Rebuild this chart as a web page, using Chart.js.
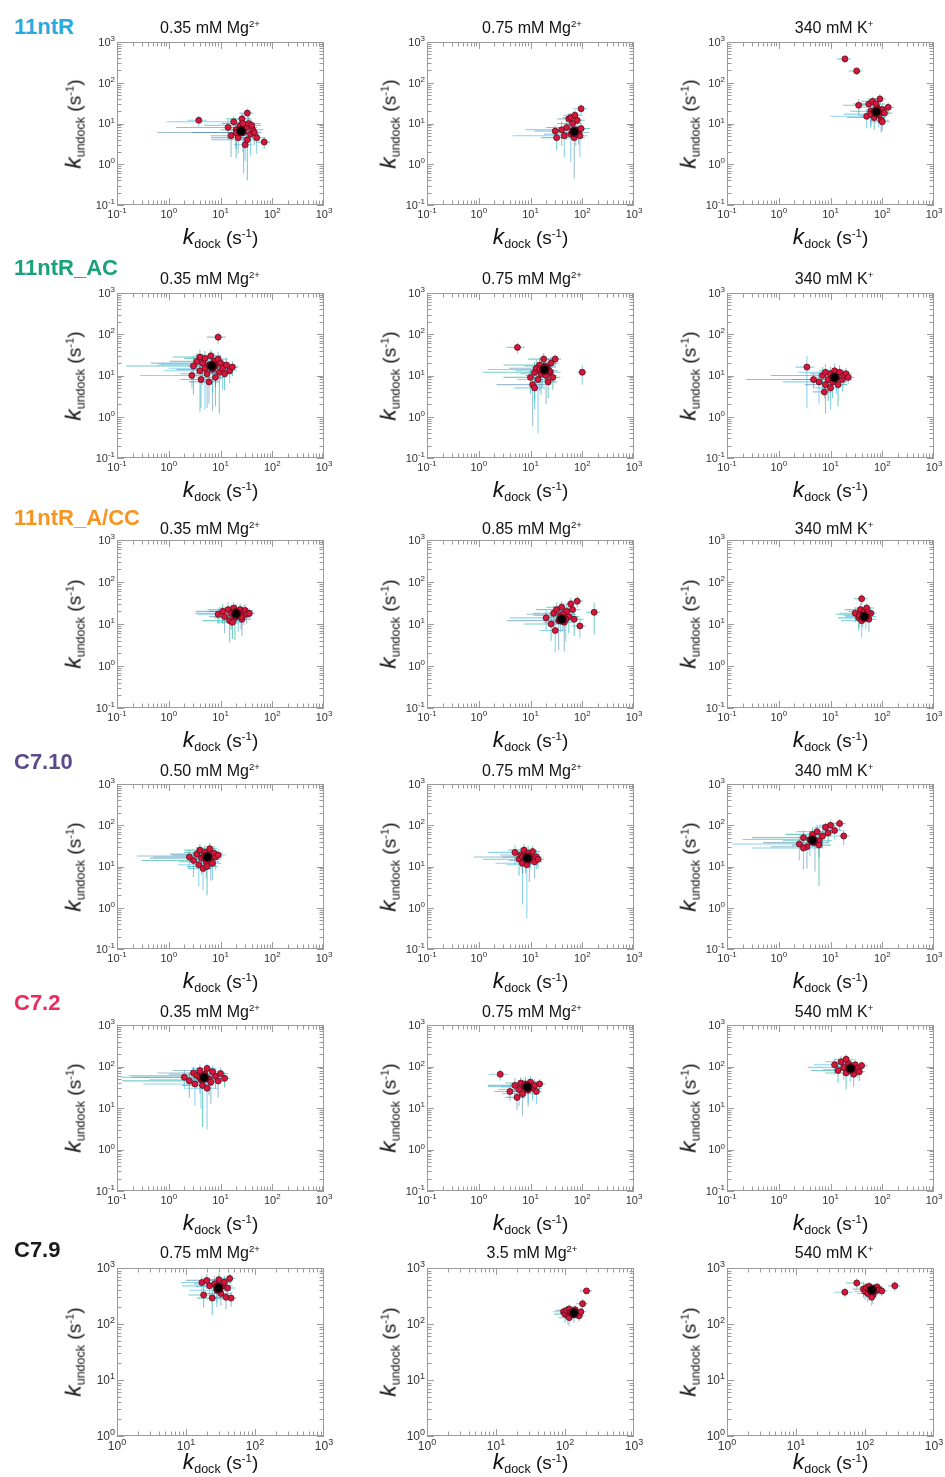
<!DOCTYPE html>
<html>
<head>
<meta charset="utf-8">
<script src="https://cdn.jsdelivr.net/npm/chart.js@4.4.1/dist/chart.umd.min.js"></script>
<style>
  body { margin: 0; background: #fff; }
  #fig { position: relative; width: 945px; height: 1477px; background: #fff;
         font-family: "Liberation Sans", Arial, sans-serif; color: #111; overflow: hidden; }
  canvas { position: absolute; }
  .rowlab { position: absolute; font-weight: bold; font-size: 22px; transform: translateY(-50%); white-space: nowrap; }
  .ptitle { position: absolute; font-size: 16px; transform: translate(-50%, -50%); white-space: nowrap; }
  .xt, .yt { position: absolute; font-size: 19px; white-space: nowrap; line-height: 1; }
  .xt { transform: translate(-50%, -50%); }
  .yt { transform: translate(-50%, -50%) rotate(-90deg); }
  .xt i, .yt i { font-size: 1.2em; }
  sub { font-size: 0.66em; position: relative; top: 0.3em; vertical-align: baseline; }
  sup { font-size: 0.6em; position: relative; top: -0.6em; vertical-align: baseline; }
</style>
</head>
<body>
<div id="fig"></div>
<script>
// ---- data ----
const rowNames = ['11ntR', '11ntR_AC', '11ntR_A/CC', 'C7.10', 'C7.2', 'C7.9'];
const rowColors = ['#27aae1', '#17a27c', '#f7941e', '#5b4a8b', '#ea2a5c', '#1a1a1a'];

const titles = [
  ['0.35 mM Mg<sup>2+</sup>', '0.75 mM Mg<sup>2+</sup>', '340 mM K<sup>+</sup>'],
  ['0.35 mM Mg<sup>2+</sup>', '0.75 mM Mg<sup>2+</sup>', '340 mM K<sup>+</sup>'],
  ['0.35 mM Mg<sup>2+</sup>', '0.85 mM Mg<sup>2+</sup>', '340 mM K<sup>+</sup>'],
  ['0.50 mM Mg<sup>2+</sup>', '0.75 mM Mg<sup>2+</sup>', '340 mM K<sup>+</sup>'],
  ['0.35 mM Mg<sup>2+</sup>', '0.75 mM Mg<sup>2+</sup>', '540 mM K<sup>+</sup>'],
  ['0.75 mM Mg<sup>2+</sup>', '3.5 mM Mg<sup>2+</sup>', '540 mM K<sup>+</sup>']
];

const decades = [0.1, 1, 10, 100, 1000];
const tickExps = ['-1', '0', '1', '2', '3'];

// each molecule: [kdock, kundock, rel. error dock, rel. error undock]
const p11ntR_1 = [[3.8,12,.4,.3],[14,8,.9,.5],[16,5,.6,.7],[18,11,.95,.4],[20,7,.5,.8],[22,4.5,.7,.6],[24,9,.8,.5],[26,13,.5,.4],[28,6,.9,.9],[30,3,.4,.6],[32,8,.6,.5],[35,10,.7,.6],[38,5.5,.5,.7],[42,7,.6,.4],[45,6,.4,.5],[50,4.5,.5,.6],[70,3.5,.3,.3],[20,6,.97,.6],[27,10,.6,.8],[33,4,.8,.9],[40,9,.5,.4],[33,18,.3,.3]];
const p11ntR_2 = [[30,6.5,.6,.4],[32,4.5,.5,.5],[40,7,.8,.6],[45,5,.9,.7],[50,8,.6,.5],[55,13,.4,.4],[60,5.5,.7,.8],[65,10,.5,.5],[70,4.5,.6,.9],[75,7,.5,.6],[80,12,.4,.4],[85,6,.6,.5],[90,5,.4,.7],[95,7.5,.5,.4],[60,14,.3,.3],[95,23,.3,.3],[72,16,.4,.3]];
const p11ntR_3 = [[19,385,.3,.2],[32,195,.3,.2],[35,28,.5,.4],[50,15,.8,.5],[55,30,.5,.4],[60,20,.6,.6],[65,35,.4,.3],[70,14,.7,.5],[80,25,.5,.4],[85,16,.6,.5],[90,40,.3,.3],[95,12,.4,.5],[100,22,.5,.4],[110,18,.4,.4],[130,25,.3,.3],[60,17,.7,.5],[75,30,.5,.4],[100,11,.4,.4]];
const pAC_1 = [[2.8,10,.9,.5],[3,17,.95,.8],[3.5,22,.7,.6],[4,13,.8,.9],[4.2,8,.6,.8],[4.5,20,.9,.7],[5,15,.8,.9],[5,26,.6,.5],[5.5,11,.7,.85],[6,18,.9,.6],[6.5,30,.5,.4],[7,14,.8,.9],[7.5,22,.6,.6],[8,9,.5,.8],[8,17,.7,.7],[9,25,.5,.5],[9.5,12,.6,.9],[10,20,.5,.6],[11,15,.6,.7],[12,11,.4,.6],[13,18,.5,.5],[15,13,.4,.5],[17,16,.3,.4],[6,7,.6,.7],[7,19,.9,.8],[4,28,.7,.5],[9,85,.4,.3]];
const pAC_2 = [[5.6,48,.4,.3],[10,9,.7,.6],[11,6,.8,.9],[12,5,.6,.7],[12,12,.9,.8],[13,15,.7,.6],[14,8,.6,.95],[15,18,.8,.5],[16,11,.6,.7],[17,13,.7,.6],[18,25,.5,.4],[20,10,.6,.8],[21,16,.5,.5],[22,7,.5,.6],[24,12,.6,.5],[25,20,.4,.4],[27,9,.4,.5],[30,25,.3,.3],[15,14,.9,.7],[19,17,.6,.6],[23,13,.5,.5],[100,12,.2,.5]];
const pAC_3 = [[3.5,16,.4,.9],[4.7,8,.95,.4],[7.6,4,.4,.3],[6,7,.8,.7],[7,10,.9,.6],[8,6,.6,.8],[8,12,.7,.6],[9,8,.8,.7],[10,11,.6,.5],[10,5,.5,.7],[11,7,.6,.6],[12,13,.5,.5],[13,9,.6,.6],[14,6,.5,.7],[15,12,.4,.5],[17,8,.5,.5],[18,10,.4,.4],[20,11,.3,.4],[22,9,.3,.3]];
const pACC_1 = [[9,17,.6,.4],[11,20,.7,.5],[12,15,.5,.6],[14,22,.6,.5],[15,12,.7,.7],[16,18,.8,.6],[18,24,.5,.4],[19,14,.6,.7],[20,20,.7,.5],[22,16,.5,.6],[24,22,.4,.4],[26,13,.5,.6],[28,19,.4,.5],[30,21,.4,.4],[32,17,.3,.4],[36,18,.3,.3],[17,11,.5,.6],[25,15,.6,.5]];
const pACC_2 = [[20,14,.8,.5],[25,10,.7,.6],[28,18,.6,.5],[30,7,.5,.7],[32,22,.6,.5],[35,12,.9,.8],[38,16,.7,.6],[40,25,.5,.4],[45,11,.6,.8],[50,20,.5,.5],[55,15,.6,.6],[60,30,.4,.4],[65,22,.4,.5],[70,13,.5,.6],[80,35,.3,.3],[90,9,.3,.5],[170,19,.3,.7],[42,17,.8,.6],[48,13,.6,.7]];
const pACC_3 = [[30,18,.5,.4],[35,14,.6,.5],[38,22,.5,.4],[40,12,.6,.6],[42,17,.7,.5],[45,20,.5,.4],[48,15,.6,.5],[50,24,.4,.3],[55,13,.4,.5],[60,18,.3,.4],[40,40,.3,.3],[52,19,.4,.4],[36,16,.5,.5]];
const pC710_1 = [[2.5,17,.8,.5],[3,14,.9,.6],[3.5,20,.7,.5],[3.8,11,.6,.7],[4,25,.5,.4],[4.3,16,.9,.6],[4.6,9,.5,.7],[5,22,.6,.5],[5.3,13,.7,.6],[5.8,19,.8,.5],[6.2,27,.4,.4],[6.5,15,.6,.7],[7,12,.5,.6],[7.5,21,.5,.5],[8,17,.4,.5],[9,19,.4,.4],[5.5,10,.6,.8],[4.8,18,.95,.6]];
const pC710_2 = [[5,22,.7,.5],[6,15,.8,.6],[6.5,19,.6,.5],[7,12,.7,.9],[7.5,25,.5,.4],[8,17,.9,.6],[8.5,11,.6,.95],[9,21,.5,.5],[9.5,14,.6,.7],[10,18,.5,.5],[11,23,.4,.4],[12,13,.4,.6],[13,17,.3,.5],[14,15,.3,.4],[7,17,.6,.6]];
const pC710_3 = [[2.5,35,.95,.6],[3,50,.9,.5],[3.5,30,.8,.7],[4,45,.95,.6],[4.5,60,.7,.5],[5,38,.9,.8],[5.5,70,.6,.5],[6,42,.8,.6],[7,55,.6,.5],[8,90,.4,.3],[9,65,.5,.4],[10,100,.4,.3],[12,75,.4,.4],[15,110,.3,.3],[18,55,.3,.4],[3,28,.9,.7],[6,33,.7,.9]];
const pC72_1 = [[2,55,.9,.5],[2.5,45,.95,.6],[3,70,.8,.4],[3.2,38,.9,.7],[3.5,60,.95,.5],[4,80,.7,.4],[4.2,48,.9,.8],[4.5,35,.6,.9],[5,65,.8,.5],[5.5,90,.5,.3],[6,50,.7,.6],[6.5,42,.6,.7],[7,75,.5,.4],[8,58,.5,.5],[9,45,.4,.6],[10,68,.4,.4],[12,52,.3,.4],[4,55,.97,.6],[5.5,30,.6,.9]];
const pC72_2 = [[2.6,65,.4,.3],[4,25,.5,.4],[5,35,.7,.5],[6,28,.6,.6],[6.5,40,.5,.4],[7,22,.6,.7],[7.5,33,.8,.5],[8,38,.5,.5],[9,27,.6,.6],[10,42,.4,.4],[11,30,.5,.5],[12,35,.4,.4],[13,25,.3,.5],[15,38,.3,.3],[5.5,18,.4,.5],[9,32,.7,.6]];
const pC72_3 = [[12,110,.6,.4],[14,80,.7,.5],[16,130,.5,.4],[18,95,.8,.5],[20,70,.6,.6],[22,120,.5,.4],[24,85,.7,.5],[26,100,.5,.4],[28,65,.4,.5],[30,110,.4,.4],[33,90,.3,.4],[36,75,.3,.4],[40,105,.3,.3],[20,150,.4,.3]];
const pC79_1 = [[17,550,.5,.3],[18,330,.4,.4],[20,600,.5,.3],[22,480,.6,.4],[24,290,.4,.5],[26,520,.5,.4],[28,400,.6,.5],[30,620,.3,.3],[32,350,.4,.4],[34,480,.4,.4],[36,560,.3,.3],[38,300,.3,.4],[40,440,.3,.3],[43,650,.2,.2],[45,290,.2,.3],[28,470,.5,.5]];
const pC79_2 = [[95,165,.3,.2],[100,150,.3,.3],[105,175,.3,.2],[110,140,.2,.3],[115,185,.2,.2],[120,160,.2,.3],[125,145,.2,.2],[130,170,.2,.2],[135,150,.2,.3],[140,180,.2,.2],[150,155,.2,.2],[160,140,.2,.2],[170,165,.2,.2],[180,230,.2,.2],[205,390,.2,.1],[115,130,.3,.3]];
const pC79_3 = [[51,370,.3,.2],[76,540,.3,.2],[95,420,.3,.3],[100,380,.3,.3],[105,450,.2,.2],[110,350,.3,.3],[115,470,.2,.2],[120,400,.2,.3],[130,330,.2,.3],[135,440,.2,.2],[140,380,.2,.2],[150,460,.2,.2],[160,410,.2,.2],[175,390,.2,.2],[270,480,.2,.2],[125,300,.2,.3]];

const panelData = [
  [p11ntR_1, p11ntR_2, p11ntR_3],
  [pAC_1, pAC_2, pAC_3],
  [pACC_1, pACC_2, pACC_3],
  [pC710_1, pC710_2, pC710_3],
  [pC72_1, pC72_2, pC72_3],
  [pC79_1, pC79_2, pC79_3]
];

// ensemble means (black dots)
const means = [
  [[25, 6.5], [70, 6.3], [77, 19.5]],
  [[6.8, 17], [18.7, 14], [12, 9]],
  [[20, 17.5], [40, 13], [45, 15]],
  [[5.6, 17], [8.7, 16], [4.5, 43]],
  [[4.8, 54], [8.7, 32], [24.5, 89]],
  [[29.5, 440], [134, 158], [126, 405]]
];

// ---- layout ----
const colBox = [[117, 324], [427, 634], [727, 934]];
const rowBox = [[42, 205], [293, 458], [540, 708], [784, 949], [1025, 1191], [1268, 1436]];
const rowLabelY = [27, 268, 518, 762, 1003, 1250];
const titleY = [28, 279, 529, 771, 1012, 1253];
const titleX = [210, 532, 834];
const yTitleX = [73, 388, 688];

const barColors = ['rgba(61,184,232,0.6)', 'rgba(24,179,155,0.6)', 'rgba(40,110,150,0.45)'];
const PAD_L = 30, PAD_R = 14, PAD_T = 8, PAD_B = 18;
const FONT = '"Liberation Sans", Arial, sans-serif';

const errorBars = {
  id: 'errorBars',
  beforeDatasetsDraw(chart) {
    const ds = chart.data.datasets[0];
    const { ctx, chartArea: a, scales: { x, y } } = chart;
    ctx.save();
    ctx.beginPath();
    ctx.rect(a.left, a.top, a.right - a.left, a.bottom - a.top);
    ctx.clip();
    ctx.lineWidth = 1.1;
    ds.data.forEach((p, i) => {
      const ex = ds.ex[i] * p.x, ey = ds.ey[i] * p.y;
      const px = x.getPixelForValue(p.x), py = y.getPixelForValue(p.y);
      const xl = x.getPixelForValue(Math.max(p.x - ex, x.min));
      const xr = x.getPixelForValue(p.x + ex);
      const yb = y.getPixelForValue(Math.max(p.y - ey, y.min));
      const yt = y.getPixelForValue(p.y + ey);
      ctx.strokeStyle = barColors[i % barColors.length];
      ctx.beginPath();
      ctx.moveTo(xl, py); ctx.lineTo(xr, py);
      ctx.moveTo(px, yb); ctx.lineTo(px, yt);
      ctx.stroke();
    });
    ctx.restore();
  }
};

// "10" with a raised exponent
function drawPower(ctx, exp, x, y, align, size) {
  const small = Math.round(size * 0.72);
  ctx.font = size + 'px ' + FONT;
  const wBase = ctx.measureText('10').width;
  ctx.font = small + 'px ' + FONT;
  const wExp = ctx.measureText(exp).width;
  const w = wBase + wExp;
  const x0 = align === 'right' ? x - w : x - w / 2;
  ctx.textAlign = 'left';
  ctx.textBaseline = 'alphabetic';
  ctx.font = size + 'px ' + FONT;
  ctx.fillText('10', x0, y);
  ctx.font = small + 'px ' + FONT;
  ctx.fillText(exp, x0 + wBase, y - size * 0.45);
}

// box with inward ticks on all four sides, plus the decade labels
const frame = {
  id: 'frame',
  afterDraw(chart) {
    const { ctx, chartArea: a, scales: { x, y } } = chart;
    const size = chart.options.labelSize;
    ctx.save();
    ctx.strokeStyle = '#9a9a9a';
    ctx.lineWidth = 1;
    ctx.strokeRect(a.left + 0.5, a.top + 0.5, a.right - a.left - 1, a.bottom - a.top - 1);
    const minorTicks = (scale, fn) => {
      for (let d = scale.min; d < scale.max * 0.999; d *= 10) {
        for (let m = 1; m <= 9; m++) fn(scale.getPixelForValue(d * m), m === 1 ? 7 : 4.5);
      }
    };
    ctx.beginPath();
    minorTicks(x, (px, len) => {
      px = Math.round(px) + 0.5;
      ctx.moveTo(px, a.bottom); ctx.lineTo(px, a.bottom - len);
      ctx.moveTo(px, a.top); ctx.lineTo(px, a.top + len);
    });
    minorTicks(y, (py, len) => {
      py = Math.round(py) + 0.5;
      ctx.moveTo(a.left, py); ctx.lineTo(a.left + len, py);
      ctx.moveTo(a.right, py); ctx.lineTo(a.right - len, py);
    });
    ctx.stroke();

    ctx.fillStyle = '#333';
    x.ticks.forEach(t => {
      drawPower(ctx, tickExps[decades.indexOf(t.value)], x.getPixelForValue(t.value), a.bottom + size + 2, 'center', size);
    });
    y.ticks.forEach(t => {
      drawPower(ctx, tickExps[decades.indexOf(t.value)], a.left - 2, y.getPixelForValue(t.value) + size * 0.36, 'right', size);
    });
    ctx.restore();
  }
};

function logAxis(isX, ticksArr) {
  return {
    type: 'logarithmic',
    min: ticksArr[0],
    max: ticksArr[ticksArr.length - 1],
    afterBuildTicks: s => { s.ticks = ticksArr.map(v => ({ value: v })); },
    afterFit: s => {
      if (isX) s.height = PAD_B; else s.width = PAD_L;
      s.paddingLeft = s.paddingRight = s.paddingTop = s.paddingBottom = 0;
    },
    ticks: { display: false },
    grid: { display: false },
    border: { display: false }
  };
}

const fig = document.getElementById('fig');

function addHtml(cls, html, left, top, color) {
  const el = document.createElement('div');
  el.className = cls;
  el.innerHTML = html;
  el.style.left = left + 'px';
  el.style.top = top + 'px';
  if (color) el.style.color = color;
  fig.appendChild(el);
}

rowNames.forEach((name, r) => {
  addHtml('rowlab', name, 14, rowLabelY[r], rowColors[r]);
  const ticksArr = r === 5 ? decades.slice(1) : decades;
  for (let c = 0; c < 3; c++) {
    const [bl, br] = colBox[c];
    const [bt, bb] = rowBox[r];
    const canvas = document.createElement('canvas');
    canvas.width = br - bl + PAD_L + PAD_R;
    canvas.height = bb - bt + PAD_T + PAD_B;
    canvas.style.left = (bl - PAD_L) + 'px';
    canvas.style.top = (bt - PAD_T) + 'px';
    fig.appendChild(canvas);

    const pts = panelData[r][c];
    new Chart(canvas, {
      type: 'scatter',
      data: {
        datasets: [{
          data: pts.map(p => ({ x: p[0], y: p[1] })),
          ex: pts.map(p => p[2]),
          ey: pts.map(p => p[3]),
          order: 1,
          pointRadius: 3,
          backgroundColor: '#d5173c',
          borderColor: '#5e0b19',
          borderWidth: 0.8
        }, {
          data: [{ x: means[r][c][0], y: means[r][c][1] }],
          order: 0,
          pointRadius: 4.5,
          backgroundColor: '#000',
          borderColor: '#5e0b19',
          borderWidth: 1.5
        }]
      },
      options: {
        responsive: false,
        animation: false,
        labelSize: r === 5 ? 12 : 11,
        layout: { padding: { left: 0, right: PAD_R, top: PAD_T, bottom: 0 } },
        plugins: { legend: { display: false }, tooltip: { enabled: false } },
        scales: { x: logAxis(true, ticksArr), y: logAxis(false, ticksArr) }
      },
      plugins: [errorBars, frame]
    });

    addHtml('ptitle', titles[r][c], titleX[c], titleY[r]);
    addHtml('xt', '<i>k</i><sub>dock</sub> (s<sup>-1</sup>)', (bl + br) / 2, bb + (r === 5 ? 25 : 31));
    addHtml('yt', '<i>k</i><sub>undock</sub> (s<sup>-1</sup>)', yTitleX[c], (bt + bb) / 2);
  }
});
</script>
</body>
</html>
